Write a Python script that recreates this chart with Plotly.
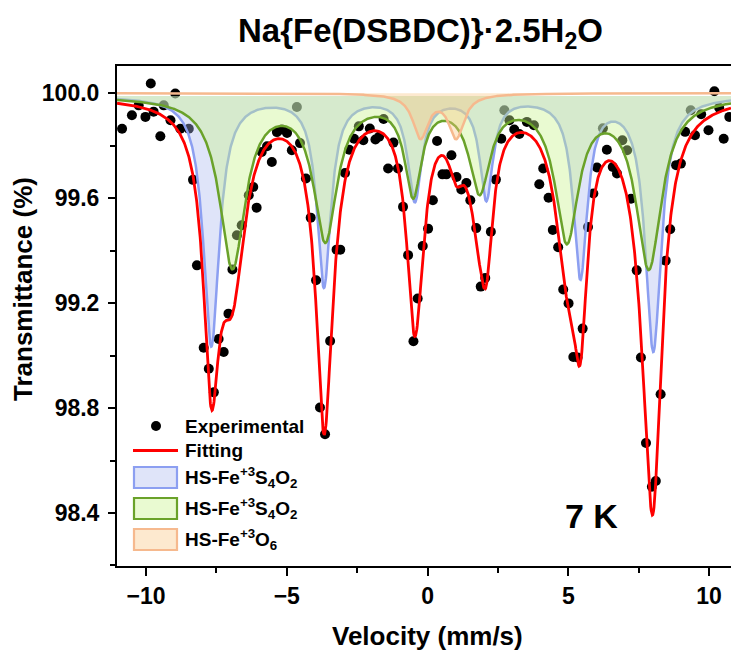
import numpy as np
import plotly.graph_objects as go

# Experimental Mössbauer spectrum: velocity (mm/s) and transmittance (%)
velocity = [
    -10.85, -10.50, -10.26, -10.02, -9.83, -9.73, -9.49, -9.37, -9.13, -8.96,
    -8.78, -8.48, -8.33, -8.19, -7.95, -7.77, -7.59, -7.42, -7.24, -7.07,
    -6.93, -6.77, -6.60, -6.35, -6.19, -6.07, -5.89, -5.70, -5.53, -5.35,
    -5.17, -4.99, -4.82, -4.64, -4.53, -4.32, -4.15, -3.96, -3.82, -3.64,
    -3.46, -3.23, -3.10, -2.93, -2.78, -2.61, -2.44, -2.28, -2.05, -1.85,
    -1.72, -1.56, -1.40, -1.21, -1.05, -0.87, -0.69, -0.50, -0.35, -0.17,
    0.02, 0.19, 0.34, 0.53, 0.67, 0.85, 1.03, 1.20, 1.38, 1.52,
    1.73, 1.89, 2.05, 2.25, 2.43, 2.62, 2.73, 2.91, 3.08, 3.26,
    3.53, 3.78, 3.97, 4.11, 4.30, 4.45, 4.64, 4.82, 5.01, 5.18,
    5.33, 5.51, 5.70, 5.89, 6.02, 6.23, 6.37, 6.58, 6.73, 6.92,
    7.09, 7.23, 7.43, 7.58, 7.76, 7.97, 8.11, 8.28, 8.46, 8.62,
    8.83, 9.00, 9.15, 9.35, 9.50, 9.72, 9.98, 10.19, 10.36, 10.52,
    10.72,
]
transmittance = [
    99.865, 99.916, 99.954, 99.910, 100.037, 99.930, 99.836, 99.954, 99.897, 99.999,
    99.865, 99.865, 99.670, 99.344, 99.030, 98.950, 98.860, 99.063, 99.014, 99.160,
    99.328, 99.459, 99.497, 99.611, 99.643, 99.564, 99.776, 99.798, 99.738, 99.852,
    99.862, 99.849, 99.783, 99.948, 99.810, 99.675, 99.526, 99.287, 98.802, 98.700,
    99.056, 99.404, 99.404, 99.696, 99.785, 99.827, 99.874, 99.821, 99.866, 99.824,
    99.834, 99.902, 99.713, 99.812, 99.713, 99.567, 99.383, 99.055, 99.218, 99.418,
    99.484, 99.592, 99.818, 99.691, 99.691, 99.764, 99.681, 99.633, 99.658, 99.592,
    99.486, 99.263, 99.296, 99.472, 99.671, 99.827, 99.935, 99.897, 99.862, 99.845,
    99.891, 99.878, 99.653, 99.713, 99.602, 99.479, 99.413, 99.252, 99.199, 98.995,
    98.993, 99.103, 99.490, 99.618, 99.717, 99.867, 99.785, 99.719, 99.694, 99.821,
    99.783, 99.598, 99.325, 98.993, 98.667, 98.500, 98.522, 98.853, 99.362, 99.482,
    99.726, 99.732, 99.853, 99.935, 99.840, 99.920, 99.859, 100.008, 99.945, 99.827,
    99.910,
]

# Fitted sub-spectra: line positions (mm/s), depths (%) and half widths (mm/s)
sextet1_pos = [-7.68, -3.68, -0.45, 2.09, 5.43, 8.02]
sextet1_depth = [0.95, 0.72, 0.39, 0.385, 0.68, 0.965]
sextet1_hwhm = [0.34, 0.30, 0.30, 0.28, 0.30, 0.34]

sextet2_pos = [-6.93, -3.63, -0.51, 1.85, 4.95, 7.86]
sextet2_depth = [0.646, 0.533, 0.355, 0.345, 0.532, 0.644]
sextet2_hwhm = [0.55, 0.50, 0.36, 0.45, 0.50, 0.55]

doublet_pos = [-0.25, 1.02]
doublet_depth = [0.165, 0.165]
doublet_hwhm = [0.33, 0.33]

sextet_baseline = 99.99
doublet_baseline = 100.0

FONT = "Liberation Sans, Arial, sans-serif"
X_RANGE = [-11.03, 10.78]
Y_RANGE = [98.198, 100.104]

grid = np.linspace(X_RANGE[0], X_RANGE[1], 1500)


def absorption(pos, depth, hwhm):
    total = np.zeros_like(grid)
    for c, d, w in zip(pos, depth, hwhm):
        total += d / (1.0 + ((grid - c) / w) ** 2)
    return total


dip1 = absorption(sextet1_pos, sextet1_depth, sextet1_hwhm)
dip2 = absorption(sextet2_pos, sextet2_depth, sextet2_hwhm)
dip3 = absorption(doublet_pos, doublet_depth, doublet_hwhm)

comp1 = sextet_baseline - dip1
comp2 = sextet_baseline - dip2
comp3 = doublet_baseline - dip3
fit = sextet_baseline - (dip1 + dip2 + dip3)

components = [
    (comp1, sextet_baseline, "rgba(170,185,240,0.38)", "#8c9ff1"),
    (comp2, sextet_baseline, "rgba(200,242,140,0.40)", "#6aa22a"),
    (comp3, doublet_baseline, "rgba(250,196,130,0.38)", "#f6b98e"),
]

fig = go.Figure()

fig.add_trace(go.Scatter(
    x=velocity, y=transmittance, mode="markers",
    marker=dict(color="black", size=10, line=dict(width=0)),
    hoverinfo="skip",
))

for curve, base, fillc, linec in components:
    xs = np.concatenate([grid, grid[::-1]])
    ys = np.concatenate([curve, np.full_like(grid, base)])
    fig.add_trace(go.Scatter(
        x=xs, y=ys, mode="lines", fill="toself", fillcolor=fillc,
        line=dict(width=0), hoverinfo="skip",
    ))
    fig.add_trace(go.Scatter(
        x=grid, y=curve, mode="lines",
        line=dict(color=linec, width=2.5), hoverinfo="skip",
    ))

fig.add_trace(go.Scatter(
    x=grid, y=fit, mode="lines",
    line=dict(color="#ff0000", width=2.8), hoverinfo="skip",
))

# plot area in pixels: left 117, top 66, right 731, bottom 566
PL, PT, PR, PB = 117, 66, 731, 566


def px(xp):
    return (xp - PL) / (PR - PL)


def py(yp):
    return (PB - yp) / (PB - PT)


annotations = [
    dict(text="<b>Na{Fe(DSBDC)}·2.5H<sub>2</sub>O</b>", x=px(420), y=py(33),
         font=dict(size=33, family=FONT, color="black")),
    dict(text="<b>Velocity (mm/s)</b>", x=px(427), y=py(636),
         font=dict(size=26, family=FONT, color="black")),
    dict(text="<b>Transmittance (%)</b>", x=px(23), y=py(289), textangle=-90,
         font=dict(size=26, family=FONT, color="black")),
    dict(text="<b>7 K</b>", x=px(591), y=py(516),
         font=dict(size=34, family=FONT, color="black")),
]

legend_rows = [
    ("Experimental", 426),
    ("Fitting", 450),
    ("HS-Fe<sup>+3</sup>S<sub>4</sub>O<sub>2</sub>", 477),
    ("HS-Fe<sup>+3</sup>S<sub>4</sub>O<sub>2</sub>", 508),
    ("HS-Fe<sup>+3</sup>O<sub>6</sub>", 539),
]
for label, yc in legend_rows:
    annotations.append(dict(
        text="<b>" + label + "</b>", x=px(183), y=py(yc), xanchor="left",
        font=dict(size=19, family=FONT, color="black"),
    ))

for a in annotations:
    a.update(xref="paper", yref="paper", showarrow=False)
    a.setdefault("xanchor", "center")
    a.setdefault("yanchor", "middle")

shapes = [
    dict(type="circle", x0=px(151), x1=px(161), y0=py(421), y1=py(431),
         fillcolor="black", line=dict(width=0)),
    dict(type="line", x0=px(133), x1=px(178), y0=py(450.5), y1=py(450.5),
         line=dict(color="#ff0000", width=2.8)),
]
for (yt, yb), (_, _, fillc, linec) in zip([(467, 488), (498, 519), (529, 550)], components):
    shapes.append(dict(type="rect", x0=px(134), x1=px(177), y0=py(yb), y1=py(yt),
                       fillcolor=fillc, line=dict(color=linec, width=2.2)))
for s in shapes:
    s.update(xref="paper", yref="paper")

fig.update_layout(
    width=731, height=652,
    margin=dict(l=PL, r=731 - PR, t=PT, b=652 - PB),
    paper_bgcolor="white", plot_bgcolor="white",
    showlegend=False,
    annotations=annotations,
    shapes=shapes,
    xaxis=dict(
        range=X_RANGE, tick0=-10, dtick=5,
        ticks="outside", ticklen=8, tickwidth=2, tickcolor="black",
        showline=True, linewidth=2, linecolor="black", mirror=True,
        showgrid=False, zeroline=False,
        tickfont=dict(size=23, family=FONT, color="black", weight="bold"),
        minor=dict(ticks="outside", dtick=2.5, tick0=-10, ticklen=5,
                   tickwidth=2, tickcolor="black", showgrid=False),
    ),
    yaxis=dict(
        range=Y_RANGE, tick0=98.4, dtick=0.4, tickformat=".1f",
        ticks="outside", ticklen=7, tickwidth=2, tickcolor="black",
        showline=True, linewidth=2, linecolor="black",
        showgrid=False, zeroline=False, ticklabelstandoff=4,
        tickfont=dict(size=23, family=FONT, color="black", weight="bold"),
        minor=dict(ticks="outside", dtick=0.2, tick0=98.4, ticklen=5,
                   tickwidth=2, tickcolor="black", showgrid=False),
    ),
)

fig.write_html("out.html")
